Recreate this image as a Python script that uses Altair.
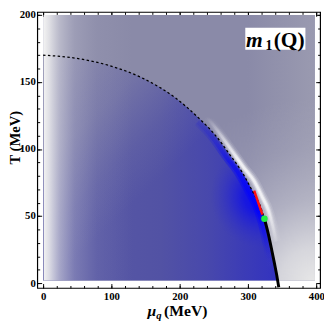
import altair as alt
import pandas as pd

# ---------------- values (MeV) ----------------
# crossover line (dashed)
cross_mu = [0, 50, 95, 147, 194, 230, 251, 273, 291, 306, 319, 324]
cross_T = [170, 167.5, 162.5, 152.5, 138, 122, 111, 96, 83, 69, 56, 48]
# first-order line (solid black)
first_mu = [324, 330, 335, 339, 342, 344, 345]
first_T = [48, 36, 24, 14, 6, 0, -3]
# red segment near the critical end point
red_mu = [309, 313, 317, 321]
red_T = [69, 63, 57, 51]
# critical end point (green dot)
cep_mu = [324]
cep_T = [48]
# white ridge just outside the transition line
ridge_mu = [240, 258, 276, 294, 309, 320, 330, 336, 341]
ridge_T = [124, 112, 99, 86, 76, 65, 54, 43, 31]
# bright blue band just inside the transition line
glow_mu = [226, 247, 268, 287, 301, 314, 319, 324.5, 329.5, 333.5]
glow_T = [120, 109, 94, 81, 68, 55, 47, 35, 23, 13]
# extent of the density field
field_mu = [1, 398]
field_T = [2, 200]
# axes
x_domain = [-8.5, 405.5]
y_domain = [-3.6, 202.2]
x_major = [0, 100, 200, 300, 400]
x_minor = list(range(0, 401, 20))
y_major = [0, 50, 100, 150, 200]
y_minor = list(range(0, 201, 10))
x_title = ["\u03bc", "q", "(MeV)"]
y_title = "T (MeV)"
label_parts = ["m", "1", "(Q)"]

W, H = 290, 283
SERIF = "Liberation Serif"

xs = alt.Scale(domain=x_domain, nice=False, zero=False)
ys = alt.Scale(domain=y_domain, nice=False, zero=False)


def lin(stops, x1=0, y1=0, x2=1, y2=0):
    return {"gradient": "linear", "x1": x1, "y1": y1, "x2": x2, "y2": y2,
            "stops": [{"offset": o, "color": c} for o, c in stops]}


def rad(stops, cx, cy, r):
    return {"gradient": "radial", "x1": cx, "y1": cy, "r1": 0,
            "x2": cx, "y2": cy, "r2": r,
            "stops": [{"offset": o, "color": c} for o, c in stops]}


field_df = pd.DataFrame({"mu0": [field_mu[0]], "mu1": [field_mu[1]],
                         "T0": [field_T[0]], "T1": [field_T[1]]})
strip_df = pd.DataFrame({"mu0": [field_mu[0]], "mu1": [field_mu[0] + 130],
                         "T0": [field_T[0]], "T1": [field_T[1]]})
bound_mu = cross_mu + first_mu[1:]
bound_T = cross_T + [max(t, field_T[0]) for t in first_T[1:]]
bound_df = pd.DataFrame({"mu": bound_mu, "T": bound_T})
cross_df = pd.DataFrame({"mu": cross_mu, "T": cross_T})
first_df = pd.DataFrame({"mu": first_mu, "T": first_T})
red_df = pd.DataFrame({"mu": red_mu, "T": red_T})
cep_df = pd.DataFrame({"mu": cep_mu, "T": cep_T})
ridge_df = pd.DataFrame({"mu": ridge_mu, "T": ridge_T})
glow_df = pd.DataFrame({"mu": glow_mu, "T": glow_T})


def rect_enc(ch, xaxis=None, yaxis=None):
    return ch.encode(
        x=alt.X("mu0:Q", scale=xs, axis=xaxis),
        x2="mu1:Q",
        y=alt.Y("T0:Q", scale=ys, axis=yaxis),
        y2="T1:Q",
    )


def xy(ch):
    return ch.encode(x=alt.X("mu:Q", scale=xs, axis=None),
                     y=alt.Y("T:Q", scale=ys, axis=None))


lab = dict(labelFont=SERIF, labelFontWeight="bold", labelFontSize=11,
           labelColor="black", domain=False, grid=False, tickSize=0,
           labelFlush=False, title=None)

base = rect_enc(
    alt.Chart(field_df).mark_rect(
        fill=lin([(0, "#8a8aa8"), (0.75, "#8a8aa8"), (1, "#9a9ab0")])),
    xaxis=alt.Axis(orient="bottom", values=x_major, labelPadding=3, **lab),
    yaxis=alt.Axis(orient="left", values=y_major, labelPadding=2, **lab),
)

light_lr = rect_enc(alt.Chart(field_df).mark_rect(fill=rad([
    (0, "rgba(232,232,232,1)"), (0.13, "rgba(225,225,228,0.85)"),
    (0.31, "rgba(215,215,222,0.42)"), (0.5, "rgba(200,200,212,0.15)"),
    (0.68, "rgba(190,190,205,0)"), (1, "rgba(190,190,205,0)")], 1, 1, 1.0)))


def interior(fill):
    return alt.Chart(bound_df).mark_area(fill=fill, interpolate="monotone",
                                         orient="vertical").encode(
        x=alt.X("mu:Q", scale=xs, axis=None),
        y=alt.Y("T:Q", scale=ys, axis=None),
        y2=alt.datum(field_T[0]),
    )


inner = interior(lin([(0, "#5c5ca4"), (0.5, "#5252a4"), (0.7, "#4848ac"),
                      (0.85, "#3c3cb6"), (1, "#3232c0")]))
inner_fade = interior(lin([(0, "rgba(138,138,168,0.95)"),
                           (0.3, "rgba(136,136,168,0.6)"),
                           (0.5, "rgba(132,132,168,0.2)"),
                           (0.65, "rgba(132,132,168,0)"),
                           (1, "rgba(132,132,168,0)")], 0, 0, 0.8, 0.8))
inner_glow = interior(rad([(0, "rgba(0,0,255,0.85)"), (0.35, "rgba(0,0,250,0.6)"),
                           (0.7, "rgba(20,20,230,0.25)"),
                           (1, "rgba(40,40,210,0)")], 0.93, 0.62, 0.22))

glow_grad = lin([(0, "rgba(45,45,200,0.35)"), (0.28, "rgba(10,10,245,0.9)"),
                 (0.62, "rgba(0,0,255,1)"), (0.8, "rgba(20,20,230,0.75)"),
                 (1, "rgba(60,60,190,0.2)")], 0, 0, 0, 1)
glow = [
    xy(alt.Chart(glow_df).mark_line(stroke=glow_grad, strokeWidth=w,
                                    opacity=o, interpolate="monotone"))
    for w, o in [(8, 0.45), (4, 0.6)]
]

strip = rect_enc(alt.Chart(strip_df).mark_rect(fill=lin([
    (0, "rgba(242,242,242,1)"), (0.06, "rgba(234,234,236,0.9)"),
    (0.18, "rgba(216,216,224,0.6)"), (0.35, "rgba(200,200,214,0.3)"),
    (0.6, "rgba(190,190,206,0.1)"), (1, "rgba(190,190,206,0)")])))

ridge_grad = lin([(0, "rgba(255,255,255,0)"), (0.35, "rgba(255,255,255,0.95)"),
                  (0.7, "rgba(255,255,255,0.9)"), (1, "rgba(255,255,255,0.1)")],
                 0, 0, 0, 1)
ridge = [
    xy(alt.Chart(ridge_df).mark_line(stroke=ridge_grad, strokeWidth=w,
                                     opacity=o, interpolate="monotone"))
    for w, o in [(10, 0.15), (7, 0.25), (4.5, 0.45), (2.5, 0.65)]
]

dashed = xy(alt.Chart(cross_df).mark_line(color="black", strokeDash=[2.5, 2.5],
                                          strokeWidth=1.3, interpolate="monotone"))
red = xy(alt.Chart(red_df).mark_line(color="#ff1010", strokeWidth=2.5))
solid = xy(alt.Chart(first_df).mark_line(color="black", strokeWidth=3,
                                         interpolate="monotone"))
cep = xy(alt.Chart(cep_df).mark_circle(color="#22ee44", size=45, opacity=1))

# label box m_1(Q)
box_df = pd.DataFrame({"mu0": [296], "mu1": [384], "T0": [174], "T1": [190.5]})
box = rect_enc(alt.Chart(box_df).mark_rect(fill="white"))
lbl_df = pd.DataFrame({"mu": [297, 325.5, 337.5], "T": [176, 173.5, 176],
                       "t": label_parts})
lbl_m = xy(alt.Chart(lbl_df.iloc[[0]]).mark_text(
    font=SERIF, fontWeight="bold", fontStyle="italic", fontSize=22,
    align="left", baseline="alphabetic", color="black")).encode(text="t:N")
lbl_1 = xy(alt.Chart(lbl_df.iloc[[1]]).mark_text(
    font=SERIF, fontWeight="bold", fontSize=14,
    align="left", baseline="alphabetic", color="black")).encode(text="t:N")
lbl_q = xy(alt.Chart(lbl_df.iloc[[2]]).mark_text(
    font=SERIF, fontWeight="bold", fontSize=22,
    align="left", baseline="alphabetic", color="black")).encode(text="t:N")

# axis titles
t_df = pd.DataFrame({"a": [0]})
xt_mu = alt.Chart(t_df).mark_text(font=SERIF, fontStyle="italic", fontWeight="bold",
                                  fontSize=16, align="left", baseline="alphabetic",
                                  color="black").encode(
    x=alt.value(113), y=alt.value(311.5), text=alt.value(x_title[0]))
xt_q = alt.Chart(t_df).mark_text(font=SERIF, fontStyle="italic", fontWeight="bold",
                                 fontSize=11, align="left", baseline="alphabetic",
                                 color="black").encode(
    x=alt.value(122), y=alt.value(314.5), text=alt.value(x_title[1]))
xt_mev = alt.Chart(t_df).mark_text(font=SERIF, fontWeight="bold", fontSize=16,
                                   align="left", baseline="alphabetic",
                                   color="black").encode(
    x=alt.value(130), y=alt.value(311.5), text=alt.value(x_title[2]))
yt = alt.Chart(t_df).mark_text(font=SERIF, fontWeight="bold", fontSize=15,
                               angle=270, align="center", baseline="middle",
                               color="black").encode(
    x=alt.value(-23), y=alt.value(129), text=alt.value(y_title))


# inward frame ticks (axes moved onto the opposite edges)
def ticks(xorient, yorient, xv, yv, size):
    common = dict(labels=False, domain=False, grid=False, title=None,
                  tickColor="black", tickWidth=1, tickSize=size)
    return alt.Chart(cep_df).mark_point(opacity=0).encode(
        x=alt.X("mu:Q", scale=xs,
                axis=alt.Axis(orient=xorient, offset=-H, values=xv, **common)),
        y=alt.Y("T:Q", scale=ys,
                axis=alt.Axis(orient=yorient, offset=-W, values=yv, **common)),
    )


tk = [
    ticks("top", "right", x_major, y_major, 4.5),
    ticks("top", "right", x_minor, y_minor, 2.5),
    ticks("bottom", "left", x_major, y_major, 4.5),
    ticks("bottom", "left", x_minor, y_minor, 2.5),
]

chart = alt.layer(
    base, light_lr, inner, inner_fade, inner_glow, *glow, strip, *ridge,
    dashed, red, solid, cep,
    box, lbl_m, lbl_1, lbl_q, xt_mu, xt_q, xt_mev, yt, *tk,
).resolve_axis(x="independent", y="independent").properties(
    width=W, height=H,
    autosize=alt.AutoSizeParams(type="none"),
    padding={"left": 30, "top": 0, "right": 4, "bottom": 36},
).configure_view(stroke="black", strokeWidth=1.2)

chart.save("out.html", embed_options={"renderer": "svg", "actions": False})
